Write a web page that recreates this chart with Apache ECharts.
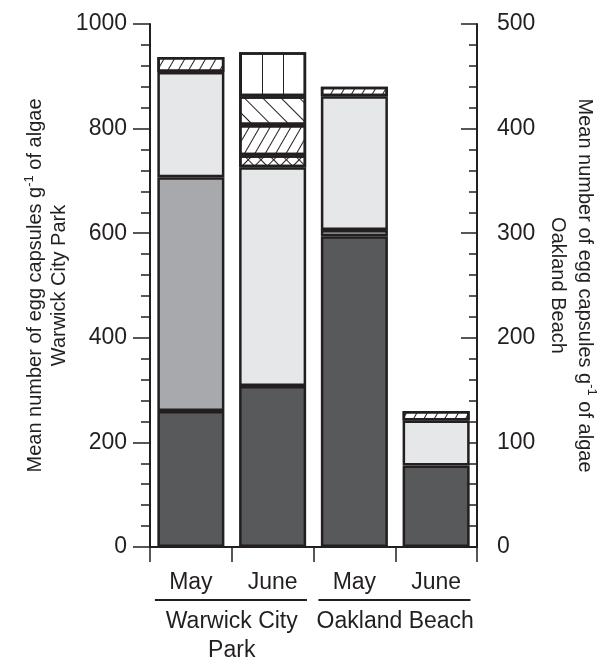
<!DOCTYPE html>
<html><head><meta charset="utf-8">
<script src="https://cdn.jsdelivr.net/npm/echarts@6/dist/echarts.min.js"></script>
<style>html,body{margin:0;padding:0;background:#fff}#chart{width:609px;height:660px}</style>
</head><body><div id="chart"></div>
<script>
// ---- data ----
const months = ['May', 'June', 'May', 'June'];
const sites = ['Warwick City\nPark', 'Oakland Beach'];
const leftAxisMax = 1000, leftAxisStep = 200;
const rightAxisMax = 500, rightAxisStep = 100;

// Warwick City Park, [May, June] (left axis), segment sizes bottom to top
const warwickDark = [260, 308];
const warwickMedium = [447, null];
const warwickLight = [201, 418];
const warwickCross = [null, 23];
const warwickSlash = [29, 58];
const warwickBackslash = [null, 55];
const warwickVertical = [null, 84];
// Oakland Beach, [May, June] (right axis)
const oaklandDark = [297, 78];
const oaklandMedium = [6, null];
const oaklandLight = [128, 43];
const oaklandSlash = [9, 9];

// ---- styles ----
const INK = '#231f20';
const FONT = 'Liberation Sans, Arial, sans-serif';
const styles = {
  dark: { color: '#58595b' },
  medium: { color: '#a7a9ac' },
  light: { color: '#e6e7e8' },
  cross: { color: '#ffffff', decal: { symbol: 'rect', symbolSize: 1, dashArrayX: [[1, 0], [1, 8]], dashArrayY: [1, 0, 8, 0], rotation: Math.PI / 4, color: INK } },
  slash: { color: '#ffffff', decal: { symbol: 'rect', symbolSize: 1, dashArrayX: [1, 0], dashArrayY: [1, 8], rotation: -Math.PI / 3, color: INK } },
  backslash: { color: '#ffffff', decal: { symbol: 'rect', symbolSize: 1, dashArrayX: [1, 0], dashArrayY: [1, 12], rotation: Math.PI / 4, color: INK } },
  vertical: { color: '#ffffff', decal: { symbol: 'rect', symbolSize: 1, dashArrayX: [0, 10, 1, 10], dashArrayY: [1, 0], rotation: 0, color: INK } }
};

const layers = [
  { site: 'W', vals: warwickDark, style: 'dark' },
  { site: 'W', vals: warwickMedium, style: 'medium' },
  { site: 'W', vals: warwickLight, style: 'light' },
  { site: 'W', vals: warwickCross, style: 'cross' },
  { site: 'W', vals: warwickSlash, style: 'slash' },
  { site: 'W', vals: warwickBackslash, style: 'backslash' },
  { site: 'W', vals: warwickVertical, style: 'vertical' },
  { site: 'O', vals: oaklandDark, style: 'dark' },
  { site: 'O', vals: oaklandMedium, style: 'medium' },
  { site: 'O', vals: oaklandLight, style: 'light' },
  { site: 'O', vals: oaklandSlash, style: 'slash' }
];

const series = layers.map(function (l, i) {
  const v = l.vals.map(function (x) { return x == null ? '-' : x; });
  const data = l.site === 'W' ? [v[0], v[1], '-', '-'] : ['-', '-', v[0], v[1]];
  const st = styles[l.style];
  const itemStyle = { color: st.color, borderColor: INK, borderWidth: 2.5 };
  if (st.decal) itemStyle.decal = Object.assign({ backgroundColor: null }, st.decal);
  return {
    type: 'bar', name: l.site + '-' + l.style + i, stack: l.site,
    yAxisIndex: l.site === 'W' ? 0 : 1, xAxisIndex: 0,
    barGap: '-100%', barCategoryGap: '18%',
    data: data, itemStyle: itemStyle, silent: true, animation: false
  };
});

const supStyle = { fontSize: 13, lineHeight: 13, verticalAlign: 'top', color: INK, fontFamily: FONT };
const nameStyleLeft = { fontSize: 20, lineHeight: 24, color: INK, fontFamily: FONT, rich: { sup: supStyle } };
const nameStyleRight = { fontSize: 20, lineHeight: 27, color: INK, fontFamily: FONT, rich: { sup: supStyle } };
const labelStyle = { fontSize: 23, color: INK, fontFamily: FONT };
const plain = function (v) { return String(v); };

const chart = echarts.init(document.getElementById('chart'), null, { renderer: 'canvas' });
chart.setOption({
  animation: false,
  backgroundColor: '#ffffff',
  grid: { left: 150, right: 132, top: 24, bottom: 113, outerBoundsMode: 'none' },
  xAxis: [
    {
      type: 'category', data: months, position: 'bottom',
      axisLine: { show: true, lineStyle: { color: INK, width: 2 } },
      axisTick: { show: true, length: 15, lineStyle: { color: INK, width: 1.5 } },
      axisLabel: Object.assign({ margin: 24, interval: 0 }, labelStyle)
    },
    {
      type: 'category', data: sites, position: 'bottom',
      axisLine: { show: false }, axisTick: { show: false },
      axisLabel: Object.assign({ margin: 60, lineHeight: 29, interval: 0, hideOverlap: false }, labelStyle)
    }
  ],
  yAxis: [
    {
      type: 'value', position: 'left', min: 0, max: leftAxisMax, interval: leftAxisStep,
      name: 'Mean number of egg capsules g{sup|-1} of algae\nWarwick City Park',
      nameLocation: 'middle', nameRotate: 90, nameGap: 79, nameMoveOverlap: false, nameTextStyle: nameStyleLeft,
      axisLine: { show: true, lineStyle: { color: INK, width: 2 } },
      axisTick: { show: true, length: 17, lineStyle: { color: INK, width: 1.5 } },
      minorTick: { show: true, splitNumber: 5, length: 9, lineStyle: { color: INK, width: 1.5 } },
      splitLine: { show: false },
      axisLabel: Object.assign({ margin: 23, formatter: plain }, labelStyle)
    },
    {
      type: 'value', position: 'right', min: 0, max: rightAxisMax, interval: rightAxisStep,
      name: 'Mean number of egg capsules g{sup|-1} of algae\nOakland Beach',
      nameLocation: 'middle', nameRotate: -90, nameGap: 67, nameMoveOverlap: false, nameTextStyle: nameStyleRight,
      axisLine: { show: true, lineStyle: { color: INK, width: 2 } },
      axisTick: { show: true, inside: true, length: 16, lineStyle: { color: INK, width: 1.5 } },
      minorTick: { show: true, splitNumber: 5, length: 8, lineStyle: { color: INK, width: 1.5 } },
      splitLine: { show: false },
      axisLabel: Object.assign({ margin: 20, formatter: plain }, labelStyle)
    }
  ],
  series: series
});

// group underlines below month labels, positioned from the axis scale
const c0 = chart.convertToPixel({ xAxisIndex: 0 }, 0);
const c1 = chart.convertToPixel({ xAxisIndex: 0 }, 1);
const band = c1 - c0;
const yBase = chart.convertToPixel({ yAxisIndex: 0 }, 0) + 53;
const groups = [[0, 1], [2, 3]];
chart.setOption({
  graphic: groups.map(function (g) {
    const a = chart.convertToPixel({ xAxisIndex: 0 }, g[0]) - band * 0.44;
    const b = chart.convertToPixel({ xAxisIndex: 0 }, g[1]) + band * 0.42;
    return { type: 'line', shape: { x1: a, y1: yBase, x2: b, y2: yBase }, style: { stroke: INK, lineWidth: 2 }, silent: true };
  })
});
</script></body></html>
